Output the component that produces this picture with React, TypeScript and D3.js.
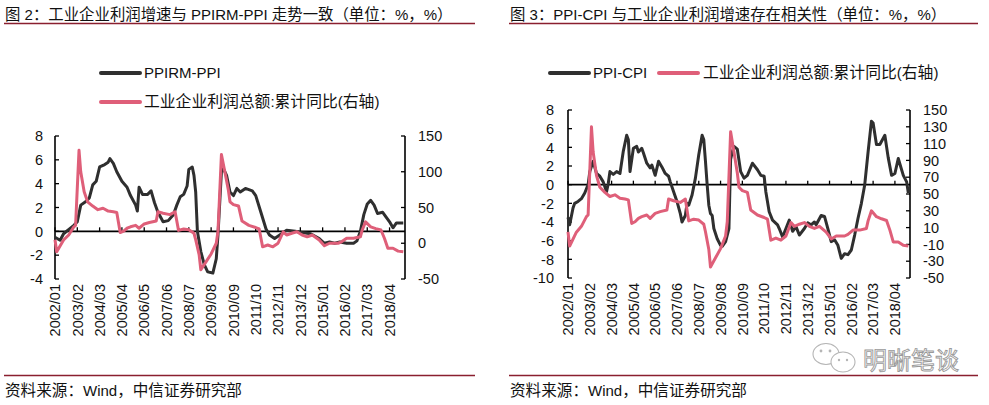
import React from "react";
import * as d3 from "d3";

// ---------- DATA ----------
const xTickLabels = [
  "2002/01", "2003/02", "2004/03", "2005/04", "2006/05", "2007/06", "2008/07", "2009/08",
  "2010/09", "2011/10", "2012/11", "2013/12", "2015/01", "2016/02", "2017/03", "2018/04",
];

const ppirmPpiDates = [
  "2002-01", "2002-04", "2002-06", "2002-12", "2003-02", "2003-04", "2003-07", "2003-09", "2003-11",
  "2004-01", "2004-03", "2004-06", "2004-08", "2004-09", "2004-11", "2005-01", "2005-04", "2005-07",
  "2005-09", "2005-12", "2006-01", "2006-02", "2006-04", "2006-07", "2006-09", "2006-11", "2007-01",
  "2007-04", "2007-07", "2007-10", "2007-12", "2008-02", "2008-04", "2008-06", "2008-07", "2008-09",
  "2008-10", "2008-11", "2008-12", "2009-02", "2009-04", "2009-06", "2009-09", "2009-11", "2009-12",
  "2010-02", "2010-03", "2010-05", "2010-07", "2010-09", "2010-11", "2011-01", "2011-04", "2011-08",
  "2011-10", "2012-01", "2012-04", "2012-06", "2012-09", "2012-12", "2013-04", "2013-09", "2014-01",
  "2014-06", "2014-11", "2015-02", "2015-05", "2015-08", "2015-11", "2016-03", "2016-07", "2016-09",
  "2016-11", "2017-01", "2017-03", "2017-05", "2017-07", "2017-09", "2017-12", "2018-02", "2018-04",
  "2018-06", "2018-08", "2018-12",
];
const ppirmPpiValues = [
  -0.5, -0.75, -0.2, 0.5, 0.8, 2.2, 2.5, 2.8, 3.9,
  4.2, 5.4, 5.6, 5.8, 6.1, 5.7, 5.0, 4.2, 3.7,
  3.0, 2.2, 1.7, 3.7, 3.1, 3.1, 3.4, 2.4, 1.6,
  0.8, 0.9, 1.4, 2.2, 2.9, 3.1, 3.8, 5.2, 5.4,
  4.7, 3.3, 0.0, -1.7, -2.8, -3.4, -3.5, -2.3, -0.3,
  5.0, 5.3, 4.7, 3.3, 3.0, 3.6, 3.3, 3.6, 3.4,
  3.0, 1.6, 0.2, -0.3, -0.6, -0.3, 0.1, 0.0, -0.1,
  -0.2, -0.6, -1.0, -0.9, -1.0, -0.9, -1.0, -1.0, -0.8,
  0.0, 1.4, 2.3, 2.6, 2.2, 1.5, 1.6, 1.2, 0.8,
  0.3, 0.7, 0.7,
];

const profitDates = [
  "2002-01", "2002-02", "2002-06", "2002-09", "2002-12", "2003-01", "2003-03", "2003-04", "2003-06",
  "2003-08", "2003-11", "2004-02", "2004-05", "2004-08", "2004-11", "2005-01", "2005-03", "2005-05",
  "2005-07", "2005-09", "2005-12", "2006-02", "2006-05", "2006-08", "2006-12", "2007-01", "2007-04",
  "2007-08", "2007-11", "2008-01", "2008-04", "2008-07", "2008-10", "2008-11", "2009-01", "2009-02",
  "2009-05", "2009-08", "2009-11", "2009-12", "2010-02", "2010-04", "2010-06", "2010-07", "2010-09",
  "2010-12", "2011-02", "2011-06", "2011-10", "2011-12", "2012-02", "2012-05", "2012-08", "2012-11",
  "2013-02", "2013-04", "2013-07", "2013-10", "2014-01", "2014-04", "2014-07", "2014-11", "2015-02",
  "2015-05", "2015-10", "2015-12", "2016-03", "2016-07", "2016-11", "2016-12", "2017-02", "2017-05",
  "2017-08", "2017-11", "2018-01", "2018-03", "2018-06", "2018-09", "2018-12",
];
const profitValues = [
  5, -12, 4.5, 11.5, 23, 25, 130, 100, 72,
  58, 52, 47, 49, 45, 44, 43, 15, 17,
  21, 23, 25, 21, 27, 29, 31, 44, 42,
  40, 44, 18, 20, 19, 14, 5, -16, -37,
  -26, -15, 0, 17, 124, 100, 75, 58, 54,
  52, 31, 25, 22, 20, -5, -2.5, -5, 0,
  16, 11.5, 14, 16, 11.5, 9, 11.5, 4.5, -3.5,
  0, 0, 2, 7, 7, 9, 18, 30, 23,
  20.5, 18.5, 7, -7, -7, -11, -12,
];

const ppiCpiDates = [
  "2002-01", "2002-02", "2002-04", "2002-05", "2002-07", "2002-09", "2002-11", "2003-01", "2003-02",
  "2003-04", "2003-06", "2003-08", "2003-10", "2003-12", "2004-01", "2004-02", "2004-04", "2004-06",
  "2004-08", "2004-10", "2004-12", "2005-01", "2005-02", "2005-04", "2005-06", "2005-07", "2005-09",
  "2005-10", "2005-12", "2006-02", "2006-03", "2006-05", "2006-07", "2006-09", "2006-11", "2007-01",
  "2007-02", "2007-04", "2007-06", "2007-08", "2007-09", "2007-11", "2007-12", "2008-01", "2008-03",
  "2008-05", "2008-07", "2008-09", "2008-10", "2008-11", "2008-12", "2009-01", "2009-02", "2009-03",
  "2009-04", "2009-06", "2009-08", "2009-09", "2009-11", "2010-01", "2010-02", "2010-03", "2010-04",
  "2010-06", "2010-08", "2010-10", "2010-12", "2011-03", "2011-06", "2011-08", "2011-10", "2011-11",
  "2012-01", "2012-03", "2012-06", "2012-07", "2012-09", "2012-11", "2013-01", "2013-03", "2013-05",
  "2013-07", "2013-10", "2013-12", "2014-02", "2014-04", "2014-05", "2014-08", "2014-10", "2014-12",
  "2015-02", "2015-04", "2015-06", "2015-08", "2015-10", "2015-12", "2016-02", "2016-04", "2016-06",
  "2016-08", "2016-10", "2016-12", "2017-02", "2017-03", "2017-05", "2017-07", "2017-10", "2017-12",
  "2018-02", "2018-04", "2018-06", "2018-09", "2018-11", "2018-12",
];
const ppiCpiValues = [
  -3.5, -4.3, -2.5, -2.0, -1.8, -1.5, -0.9, 0.0, 1.4,
  2.5, 1.2, 0.9, 0.3, -0.75, 0.1, 1.4, 1.1, 1.4,
  1.2, 3.6, 5.3, 4.8, 1.4, 3.9, 4.1, 3.5, 3.9,
  3.4, 2.3, 1.8, 2.1, 1.0, 2.5, 1.9, 1.2, 0.9,
  0.3, -0.75, -1.8, -3.1, -4.0, -3.3, -2.0, -2.2, -1.1,
  0.7, 3.2, 5.3, 4.8, 2.5, 0.0, -2.2, -3.1, -3.3,
  -4.7, -5.8, -6.5, -6.6, -6.1, -4.7, 2.7, 3.5, 4.1,
  3.8, 1.4, 0.7, 1.0, 2.3, 1.6, 1.0, 0.9, -0.75,
  -2.9, -3.8, -4.3, -4.7, -5.6, -4.7, -3.8, -5.0, -4.5,
  -5.4, -4.7, -4.1, -4.3, -4.0, -4.3, -3.3, -3.4, -4.7,
  -6.1, -5.9, -6.5, -7.9, -7.4, -7.5, -7.0, -5.4, -3.6,
  -2.0, 0.0, 3.5, 6.8, 6.6, 4.3, 4.3, 5.3, 2.9,
  1.0, 1.2, 2.8, 1.0, 0.3, -0.9,
];

const leftTicksFig2 = [8, 6, 4, 2, 0, -2, -4];
const rightTicksFig2 = [150, 100, 50, 0, -50];
const leftTicksFig3 = [8, 6, 4, 2, 0, -2, -4, -6, -8, -10];
const rightTicksFig3 = [150, 130, 110, 90, 70, 50, 30, 10, -10, -30, -50];

const titleFig2 = "图 2：工业企业利润增速与 PPIRM-PPI 走势一致（单位：%，%）";
const titleFig3 = "图 3：PPI-CPI 与工业企业利润增速存在相关性（单位：%，%）";
const nameBlackFig2 = "PPIRM-PPI";
const nameBlackFig3 = "PPI-CPI";
const nameRed = "工业企业利润总额:累计同比(右轴)";
const sourceText = "资料来源：Wind，中信证券研究部";
const watermark = "明晰笔谈";

// ---------- STYLE ----------
const FONT = '"Liberation Sans", Arial, "Noto Sans CJK SC", sans-serif';
const BLACK = "#2f2f2f";
const RED = "#df5f79";
const RULE = "#8a1f2f";
const TICK_FS = 14.5;

function monthIndex(d: string) {
  const [y, m] = d.split(/[-/]/).map(Number);
  return (y - 2002) * 12 + (m - 1);
}

const CJK_RE = /[\u3000-\u303f\u4e00-\u9fff\uff00-\uffef]/;

function MixedText(props: { text: string; x: number; y: number; latin: number; cjk: number; dy?: string }) {
  const runs: { s: string; c: boolean }[] = [];
  for (const ch of Array.from(props.text)) {
    const c = CJK_RE.test(ch);
    const last = runs[runs.length - 1];
    if (last && last.c === c) last.s += ch;
    else runs.push({ s: ch, c });
  }
  return (
    <text x={props.x} y={props.y} dy={props.dy} fill="#111" fontFamily={FONT} fontSize={props.latin}>
      {runs.map((r, i) => (
        <tspan key={i} fontSize={r.c ? props.cjk : props.latin}>
          {r.s}
        </tspan>
      ))}
    </text>
  );
}

type PanelProps = {
  ox: number;
  title: string;
  ruleX1: number;
  x0: number;
  x1: number;
  yTop: number;
  yBottom: number;
  leftDomain: [number, number];
  leftTicks: number[];
  rightTicks: number[];
  blackDates: string[];
  blackValues: number[];
  blackName: string;
  legendRow: boolean;
  leftLabelGap: number;
  watermark?: boolean;
};

function Panel(p: PanelProps) {
  const x = d3.scaleLinear().domain([0, 204]).range([p.x0, p.x1]);
  const yl = d3.scaleLinear().domain(p.leftDomain).range([p.yBottom, p.yTop]);
  const yr = d3.scaleLinear().domain([-50, 150]).range([p.yBottom, p.yTop]);
  const black = d3
    .line<number>()
    .x((_, i) => x(monthIndex(p.blackDates[i])))
    .y((v) => yl(v))(p.blackValues);
  const red = d3
    .line<number>()
    .x((_, i) => x(monthIndex(profitDates[i])))
    .y((v) => yr(v))(profitValues);
  const y0 = yl(0);
  const tick = 4;
  const labelTop = p.yBottom + 5;

  const leg = p.legendRow
    ? [
        { x: p.ox + 45, y: 73, color: BLACK, name: p.blackName, textX: p.ox + 88 },
        { x: p.ox + 154, y: 73, color: RED, name: nameRed, textX: p.ox + 198 },
      ]
    : [
        { x: p.ox + 101, y: 73, color: BLACK, name: p.blackName, textX: p.ox + 144 },
        { x: p.ox + 101, y: 102, color: RED, name: nameRed, textX: p.ox + 144 },
      ];

  return (
    <g>
      <MixedText text={p.title} x={p.ox + 5} y={19.5} latin={15} cjk={15.4} />
      <line x1={p.ox + 4} x2={p.ruleX1} y1={23.5} y2={23.5} stroke={RULE} strokeWidth={1.3} />

      {leg.map((l) => (
        <g key={l.name}>
          <line x1={l.x} x2={l.x + 39} y1={l.y} y2={l.y} stroke={l.color} strokeWidth={4} strokeLinecap="round" />
          <MixedText text={l.name} x={l.textX} y={l.y} dy="0.36em" latin={15} cjk={15.8} />
        </g>
      ))}

      {/* left axis */}
      <line x1={p.x0} x2={p.x0} y1={p.yTop} y2={p.yBottom} stroke="#000" strokeWidth={1.6} />
      {p.leftTicks.map((t) => (
        <g key={"l" + t}>
          <line x1={p.x0} x2={p.x0 + tick} y1={yl(t)} y2={yl(t)} stroke="#000" strokeWidth={1.3} />
          <text
            x={p.x0 - p.leftLabelGap}
            y={yl(t)}
            dy="0.36em"
            textAnchor="end"
            fontSize={TICK_FS}
            fill="#111"
            fontFamily={FONT}
          >
            {t}
          </text>
        </g>
      ))}
      {/* right axis */}
      <line x1={p.x1} x2={p.x1} y1={p.yTop} y2={p.yBottom} stroke="#000" strokeWidth={1.6} />
      {p.rightTicks.map((t) => (
        <g key={"r" + t}>
          <line x1={p.x1 - tick} x2={p.x1} y1={yr(t)} y2={yr(t)} stroke="#000" strokeWidth={1.3} />
          <text x={p.x1 + 13} y={yr(t)} dy="0.36em" textAnchor="start" fontSize={TICK_FS} fill="#111" fontFamily={FONT}>
            {t}
          </text>
        </g>
      ))}
      {/* category axis on the zero line */}
      <line x1={p.x0} x2={p.x1} y1={y0} y2={y0} stroke="#000" strokeWidth={1.6} />
      {xTickLabels.map((lab) => {
        const xx = x(monthIndex(lab));
        return (
          <g key={lab}>
            <line x1={xx} x2={xx} y1={y0} y2={y0 - tick} stroke="#000" strokeWidth={1.3} />
            <text
              transform={`translate(${xx},${labelTop}) rotate(-90)`}
              textAnchor="end"
              dy="0.36em"
              fontSize={TICK_FS}
              fill="#111"
              fontFamily={FONT}
            >
              {lab}
            </text>
          </g>
        );
      })}

      <path d={black ?? ""} fill="none" stroke={BLACK} strokeWidth={3} strokeLinejoin="round" />
      <path d={red ?? ""} fill="none" stroke={RED} strokeWidth={3} strokeLinejoin="round" />

      {p.watermark && (
        <g>
          <ellipse cx={p.ox + 321} cy={354} rx={13} ry={10.5} fill="#fff" stroke="#b5b5b5" strokeWidth={1.1} />
          <ellipse cx={p.ox + 338} cy={362} rx={12} ry={10} fill="#fff" stroke="#b5b5b5" strokeWidth={1.1} />
          <circle cx={p.ox + 316} cy={351} r={1.4} fill="#b5b5b5" />
          <circle cx={p.ox + 325} cy={351} r={1.4} fill="#b5b5b5" />
          <circle cx={p.ox + 334} cy={360} r={1.2} fill="#b5b5b5" />
          <circle cx={p.ox + 342} cy={360} r={1.2} fill="#b5b5b5" />
          <text x={p.ox + 358} y={369} fontSize={24} fill="#fff" stroke="#999" strokeWidth={0.9} fontFamily={FONT}>
            {watermark}
          </text>
        </g>
      )}

      <line x1={p.ox + 4} x2={p.ruleX1} y1={375.5} y2={375.5} stroke={RULE} strokeWidth={1.3} />
      <MixedText text={sourceText} x={p.ox + 5} y={396} latin={15} cjk={15.6} />
    </g>
  );
}

export default function App() {
  return (
    <svg
      width={989}
      height={405}
      style={{ position: "absolute", left: 0, top: 0, background: "#fff" }}
      xmlns="http://www.w3.org/2000/svg"
    >
      <rect width={989} height={405} fill="#fff" />
      <Panel
        ox={0}
        title={titleFig2}
        ruleX1={475}
        x0={55}
        x1={405}
        yTop={136}
        yBottom={279}
        leftDomain={[-4, 8]}
        leftTicks={leftTicksFig2}
        rightTicks={rightTicksFig2}
        blackDates={ppirmPpiDates}
        blackValues={ppirmPpiValues}
        blackName={nameBlackFig2}
        legendRow={false}
        leftLabelGap={12}
      />
      <Panel
        ox={505}
        title={titleFig3}
        ruleX1={978}
        x0={568}
        x1={910}
        yTop={110}
        yBottom={278}
        leftDomain={[-10, 8]}
        leftTicks={leftTicksFig3}
        rightTicks={rightTicksFig3}
        blackDates={ppiCpiDates}
        blackValues={ppiCpiValues}
        blackName={nameBlackFig3}
        legendRow={true}
        leftLabelGap={14}
        watermark={true}
      />
    </svg>
  );
}
